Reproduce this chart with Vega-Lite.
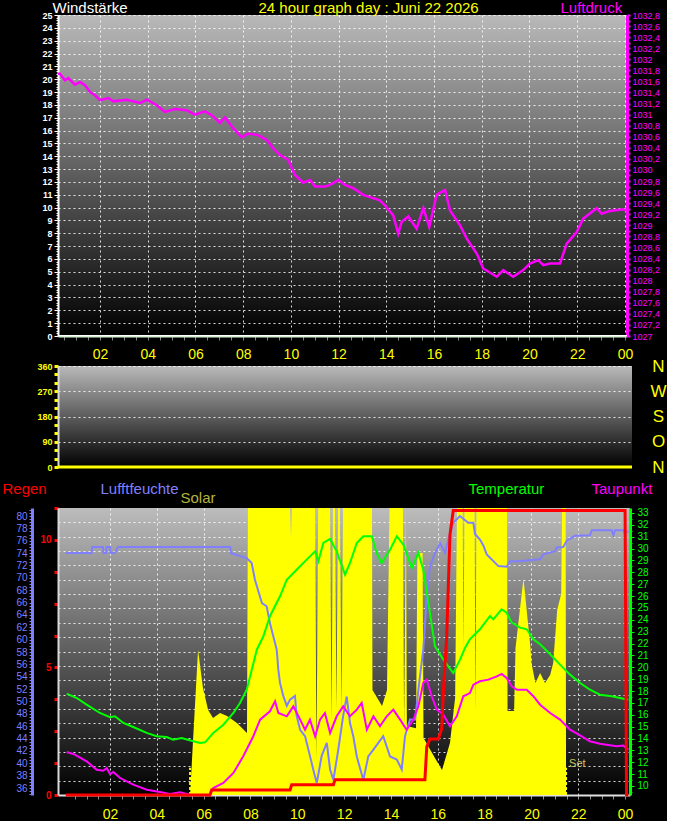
{
  "$schema": "https://vega.github.io/schema/vega-lite/v6.json",
  "background": "#000000",
  "padding": {"left": 2, "top": 0, "right": 0, "bottom": 0},
  "spacing": -4,
  "config": {
    "font": "Liberation Sans",
    "view": {"stroke": null},
    "axis": {
      "labelOverlap": false,
      "labelFlush": false,
      "labelFont": "Liberation Sans",
      "titleFont": "Liberation Sans",
      "titleFontWeight": "normal",
      "titleFontSize": 15,
      "gridColor": "#ffffff",
      "gridDash": [2, 3]
    }
  },
  "datasets": {
    "wind": [
      {"hour": 0.11, "speed": 0, "direction": 0},
      {"hour": 24.14, "speed": 0, "direction": 0}
    ],
    "pressure": [
      {"hour": 0.11, "pressure": 1031.74}, {"hour": 0.32, "pressure": 1031.74}, {"hour": 0.53, "pressure": 1031.62},
      {"hour": 0.67, "pressure": 1031.66}, {"hour": 0.95, "pressure": 1031.54}, {"hour": 1.16, "pressure": 1031.59},
      {"hour": 1.37, "pressure": 1031.53}, {"hour": 1.58, "pressure": 1031.41}, {"hour": 1.79, "pressure": 1031.35},
      {"hour": 2.0, "pressure": 1031.26}, {"hour": 2.35, "pressure": 1031.3}, {"hour": 2.56, "pressure": 1031.24},
      {"hour": 3.12, "pressure": 1031.27}, {"hour": 3.68, "pressure": 1031.21}, {"hour": 3.96, "pressure": 1031.27},
      {"hour": 4.38, "pressure": 1031.17}, {"hour": 4.72, "pressure": 1031.05}, {"hour": 5.14, "pressure": 1031.1},
      {"hour": 5.63, "pressure": 1031.08}, {"hour": 5.98, "pressure": 1031.0}, {"hour": 6.4, "pressure": 1031.06},
      {"hour": 6.68, "pressure": 1030.99}, {"hour": 7.03, "pressure": 1030.85}, {"hour": 7.24, "pressure": 1030.95},
      {"hour": 7.59, "pressure": 1030.75}, {"hour": 7.94, "pressure": 1030.59}, {"hour": 8.21, "pressure": 1030.66},
      {"hour": 8.63, "pressure": 1030.63}, {"hour": 8.99, "pressure": 1030.54}, {"hour": 9.26, "pressure": 1030.39},
      {"hour": 9.54, "pressure": 1030.27}, {"hour": 9.89, "pressure": 1030.18}, {"hour": 10.17, "pressure": 1029.91},
      {"hour": 10.52, "pressure": 1029.77}, {"hour": 10.8, "pressure": 1029.82}, {"hour": 11.01, "pressure": 1029.7},
      {"hour": 11.43, "pressure": 1029.7}, {"hour": 11.64, "pressure": 1029.73}, {"hour": 11.99, "pressure": 1029.82},
      {"hour": 12.27, "pressure": 1029.73}, {"hour": 12.62, "pressure": 1029.67}, {"hour": 13.03, "pressure": 1029.55},
      {"hour": 13.73, "pressure": 1029.45}, {"hour": 13.94, "pressure": 1029.36}, {"hour": 14.29, "pressure": 1029.18},
      {"hour": 14.5, "pressure": 1028.85}, {"hour": 14.64, "pressure": 1029.06}, {"hour": 14.92, "pressure": 1029.16},
      {"hour": 15.27, "pressure": 1028.94}, {"hour": 15.55, "pressure": 1029.31}, {"hour": 15.8, "pressure": 1028.97},
      {"hour": 16.11, "pressure": 1029.55}, {"hour": 16.46, "pressure": 1029.64}, {"hour": 16.67, "pressure": 1029.27},
      {"hour": 17.09, "pressure": 1029.0}, {"hour": 17.37, "pressure": 1028.76}, {"hour": 17.79, "pressure": 1028.49},
      {"hour": 18.06, "pressure": 1028.22}, {"hour": 18.63, "pressure": 1028.07}, {"hour": 18.9, "pressure": 1028.19},
      {"hour": 19.32, "pressure": 1028.07}, {"hour": 19.74, "pressure": 1028.19}, {"hour": 20.02, "pressure": 1028.31},
      {"hour": 20.37, "pressure": 1028.37}, {"hour": 20.58, "pressure": 1028.28}, {"hour": 20.86, "pressure": 1028.31},
      {"hour": 21.28, "pressure": 1028.31}, {"hour": 21.56, "pressure": 1028.67}, {"hour": 21.98, "pressure": 1028.88},
      {"hour": 22.25, "pressure": 1029.12}, {"hour": 22.82, "pressure": 1029.31}, {"hour": 23.03, "pressure": 1029.21},
      {"hour": 23.37, "pressure": 1029.26}, {"hour": 23.93, "pressure": 1029.29}, {"hour": 24.14, "pressure": 1029.25}
    ],
    "sun": [
      {"hour": 5.42, "event": "Rise"},
      {"hour": 21.48, "event": "Set"}
    ],
    "solar": [
      {"hour": 0.0, "solar": 0}, {"hour": 5.42, "solar": 0}, {"hour": 5.54, "solar": 181}, {"hour": 5.67, "solar": 373},
      {"hour": 5.76, "solar": 505}, {"hour": 5.97, "solar": 373}, {"hour": 6.19, "solar": 296}, {"hour": 6.4, "solar": 268},
      {"hour": 6.7, "solar": 286}, {"hour": 7.0, "solar": 275}, {"hour": 7.42, "solar": 251}, {"hour": 7.85, "solar": 216},
      {"hour": 7.89, "solar": 1000}, {"hour": 9.69, "solar": 1000}, {"hour": 9.73, "solar": 902}, {"hour": 9.77, "solar": 1000},
      {"hour": 10.76, "solar": 1000}, {"hour": 10.82, "solar": 129}, {"hour": 10.89, "solar": 1000}, {"hour": 11.4, "solar": 1000},
      {"hour": 11.46, "solar": 261}, {"hour": 11.52, "solar": 1000}, {"hour": 11.61, "solar": 1000}, {"hour": 11.67, "solar": 300},
      {"hour": 11.74, "solar": 1000}, {"hour": 11.82, "solar": 1000}, {"hour": 11.89, "solar": 300}, {"hour": 11.95, "solar": 1000},
      {"hour": 13.19, "solar": 1000}, {"hour": 13.21, "solar": 366}, {"hour": 13.62, "solar": 310}, {"hour": 13.83, "solar": 366},
      {"hour": 13.94, "solar": 1000}, {"hour": 14.51, "solar": 1000}, {"hour": 14.56, "solar": 240}, {"hour": 14.64, "solar": 1000},
      {"hour": 14.68, "solar": 240}, {"hour": 15.07, "solar": 233}, {"hour": 15.13, "solar": 843}, {"hour": 15.35, "solar": 843},
      {"hour": 15.39, "solar": 199}, {"hour": 15.88, "solar": 129}, {"hour": 16.18, "solar": 87}, {"hour": 16.52, "solar": 181},
      {"hour": 16.74, "solar": 338}, {"hour": 16.82, "solar": 1000}, {"hour": 17.06, "solar": 1000}, {"hour": 17.1, "solar": 512},
      {"hour": 17.14, "solar": 1000}, {"hour": 17.57, "solar": 1000}, {"hour": 17.61, "solar": 293}, {"hour": 17.65, "solar": 1000},
      {"hour": 18.96, "solar": 1000}, {"hour": 18.98, "solar": 293}, {"hour": 19.26, "solar": 293}, {"hour": 19.32, "solar": 512},
      {"hour": 19.66, "solar": 754}, {"hour": 19.96, "solar": 512}, {"hour": 20.0, "solar": 460}, {"hour": 20.17, "solar": 390},
      {"hour": 20.37, "solar": 425}, {"hour": 20.58, "solar": 390}, {"hour": 20.8, "solar": 418}, {"hour": 20.93, "solar": 460},
      {"hour": 21.1, "solar": 645}, {"hour": 21.27, "solar": 700}, {"hour": 21.31, "solar": 1000}, {"hour": 21.46, "solar": 1000},
      {"hour": 21.48, "solar": 0}, {"hour": 24.2, "solar": 0}
    ],
    "humidity": [
      {"hour": 0.11, "humidity": 74}, {"hour": 1.22, "humidity": 74}, {"hour": 1.23, "humidity": 75}, {"hour": 1.7, "humidity": 75},
      {"hour": 1.72, "humidity": 74}, {"hour": 1.83, "humidity": 74}, {"hour": 1.85, "humidity": 75}, {"hour": 2.0, "humidity": 75},
      {"hour": 2.02, "humidity": 74}, {"hour": 2.21, "humidity": 74}, {"hour": 2.34, "humidity": 75}, {"hour": 7.13, "humidity": 75},
      {"hour": 7.17, "humidity": 74}, {"hour": 7.84, "humidity": 73.2}, {"hour": 8.05, "humidity": 72.4}, {"hour": 8.19, "humidity": 69.7},
      {"hour": 8.33, "humidity": 67.9}, {"hour": 8.49, "humidity": 65.9}, {"hour": 8.69, "humidity": 65.4}, {"hour": 8.83, "humidity": 62.7},
      {"hour": 8.97, "humidity": 60.6}, {"hour": 9.12, "humidity": 58.4}, {"hour": 9.19, "humidity": 55.1}, {"hour": 9.26, "humidity": 53.0},
      {"hour": 9.4, "humidity": 50.9}, {"hour": 9.55, "humidity": 49.3}, {"hour": 9.69, "humidity": 50.3}, {"hour": 9.9, "humidity": 50.9},
      {"hour": 9.97, "humidity": 47.7}, {"hour": 10.12, "humidity": 45.4}, {"hour": 10.33, "humidity": 44.4}, {"hour": 10.54, "humidity": 41.2},
      {"hour": 10.68, "humidity": 39.0}, {"hour": 10.83, "humidity": 36.8}, {"hour": 11.04, "humidity": 41.2}, {"hour": 11.26, "humidity": 43.3},
      {"hour": 11.4, "humidity": 39.0}, {"hour": 11.54, "humidity": 37.3}, {"hour": 11.75, "humidity": 42.2}, {"hour": 11.96, "humidity": 47.7},
      {"hour": 12.11, "humidity": 50.8}, {"hour": 12.25, "humidity": 46.5}, {"hour": 12.39, "humidity": 44.4}, {"hour": 12.54, "humidity": 41.1},
      {"hour": 12.82, "humidity": 37.3}, {"hour": 13.03, "humidity": 41.1}, {"hour": 13.25, "humidity": 42.2}, {"hour": 13.46, "humidity": 43.3},
      {"hour": 13.67, "humidity": 44.4}, {"hour": 13.96, "humidity": 41.1}, {"hour": 14.25, "humidity": 40.6}, {"hour": 14.46, "humidity": 39.0},
      {"hour": 14.6, "humidity": 44.4}, {"hour": 14.81, "humidity": 47.1}, {"hour": 15.03, "humidity": 47.1}, {"hour": 15.24, "humidity": 54.1},
      {"hour": 15.38, "humidity": 58.4}, {"hour": 15.53, "humidity": 67.0}, {"hour": 15.67, "humidity": 71.9}, {"hour": 15.88, "humidity": 74.0},
      {"hour": 16.1, "humidity": 75.6}, {"hour": 16.31, "humidity": 74.0}, {"hour": 16.45, "humidity": 76.2}, {"hour": 16.66, "humidity": 78.9},
      {"hour": 16.95, "humidity": 80.0}, {"hour": 17.3, "humidity": 78.9}, {"hour": 17.52, "humidity": 78.9}, {"hour": 17.59, "humidity": 77.1},
      {"hour": 17.8, "humidity": 76.2}, {"hour": 17.95, "humidity": 75.2}, {"hour": 18.09, "humidity": 73.8}, {"hour": 18.59, "humidity": 71.9},
      {"hour": 18.94, "humidity": 71.8}, {"hour": 19.09, "humidity": 72.7}, {"hour": 19.44, "humidity": 72.7}, {"hour": 20.37, "humidity": 73.0},
      {"hour": 20.51, "humidity": 73.8}, {"hour": 21.01, "humidity": 74.3}, {"hour": 21.08, "humidity": 74.9}, {"hour": 21.36, "humidity": 75.0},
      {"hour": 21.51, "humidity": 76.0}, {"hour": 21.86, "humidity": 76.8}, {"hour": 22.5, "humidity": 76.9}, {"hour": 22.58, "humidity": 77.7},
      {"hour": 23.43, "humidity": 77.7}, {"hour": 23.5, "humidity": 76.9}, {"hour": 23.57, "humidity": 77.7}, {"hour": 23.93, "humidity": 77.7},
      {"hour": 24.0, "humidity": 77.1}, {"hour": 24.14, "humidity": 77.6}
    ],
    "temperature": [
      {"hour": 0.15, "temperature": 17.78}, {"hour": 0.58, "temperature": 17.41}, {"hour": 1.0, "temperature": 16.85},
      {"hour": 1.57, "temperature": 16.15}, {"hour": 2.0, "temperature": 15.79}, {"hour": 2.21, "temperature": 15.87},
      {"hour": 2.57, "temperature": 15.31}, {"hour": 2.99, "temperature": 14.97}, {"hour": 3.57, "temperature": 14.47},
      {"hour": 3.99, "temperature": 14.19}, {"hour": 4.42, "temperature": 14.13}, {"hour": 4.7, "temperature": 13.9},
      {"hour": 5.06, "temperature": 14.04}, {"hour": 5.56, "temperature": 13.77}, {"hour": 5.84, "temperature": 13.62},
      {"hour": 6.06, "temperature": 13.68}, {"hour": 6.41, "temperature": 14.47}, {"hour": 6.84, "temperature": 15.16},
      {"hour": 7.27, "temperature": 16.15}, {"hour": 7.55, "temperature": 16.99}, {"hour": 7.84, "temperature": 18.11},
      {"hour": 8.27, "temperature": 21.48}, {"hour": 8.55, "temperature": 22.61}, {"hour": 8.83, "temperature": 24.3},
      {"hour": 9.26, "temperature": 25.98}, {"hour": 9.55, "temperature": 27.38}, {"hour": 9.97, "temperature": 28.22},
      {"hour": 10.4, "temperature": 29.07}, {"hour": 10.76, "temperature": 29.77}, {"hour": 10.9, "temperature": 28.93},
      {"hour": 11.11, "temperature": 30.47}, {"hour": 11.4, "temperature": 30.81}, {"hour": 11.68, "temperature": 29.77},
      {"hour": 12.04, "temperature": 27.8}, {"hour": 12.25, "temperature": 28.79}, {"hour": 12.54, "temperature": 30.47},
      {"hour": 12.82, "temperature": 31.04}, {"hour": 13.18, "temperature": 31.04}, {"hour": 13.39, "temperature": 29.63},
      {"hour": 13.6, "temperature": 28.79}, {"hour": 13.96, "temperature": 29.91}, {"hour": 14.25, "temperature": 31.04},
      {"hour": 14.53, "temperature": 30.33}, {"hour": 14.89, "temperature": 28.37}, {"hour": 15.17, "temperature": 29.63},
      {"hour": 15.38, "temperature": 28.22}, {"hour": 15.6, "temperature": 25.42}, {"hour": 15.88, "temperature": 21.77},
      {"hour": 16.24, "temperature": 20.64}, {"hour": 16.66, "temperature": 19.52}, {"hour": 16.95, "temperature": 20.64},
      {"hour": 17.16, "temperature": 21.63}, {"hour": 17.37, "temperature": 22.36}, {"hour": 17.8, "temperature": 23.2},
      {"hour": 18.23, "temperature": 24.32}, {"hour": 18.37, "temperature": 24.04}, {"hour": 18.73, "temperature": 24.89},
      {"hour": 18.94, "temperature": 24.6}, {"hour": 19.16, "temperature": 23.76}, {"hour": 19.51, "temperature": 23.34},
      {"hour": 19.8, "temperature": 23.2}, {"hour": 20.08, "temperature": 22.36}, {"hour": 20.37, "temperature": 21.94},
      {"hour": 20.8, "temperature": 21.1}, {"hour": 21.22, "temperature": 20.22}, {"hour": 21.65, "temperature": 19.38},
      {"hour": 22.08, "temperature": 18.68}, {"hour": 22.5, "temperature": 18.11}, {"hour": 22.93, "temperature": 17.69},
      {"hour": 23.43, "temperature": 17.56}, {"hour": 23.78, "temperature": 17.41}, {"hour": 24.14, "temperature": 17.27}
    ],
    "dewpoint": [
      {"hour": 0.15, "dewpoint": 12.86}, {"hour": 0.5, "dewpoint": 12.64}, {"hour": 1.0, "dewpoint": 12.08},
      {"hour": 1.43, "dewpoint": 11.37}, {"hour": 1.71, "dewpoint": 11.29}, {"hour": 1.86, "dewpoint": 11.52},
      {"hour": 2.0, "dewpoint": 11.01}, {"hour": 2.14, "dewpoint": 11.18}, {"hour": 2.43, "dewpoint": 10.67},
      {"hour": 2.99, "dewpoint": 10.11}, {"hour": 3.57, "dewpoint": 9.69}, {"hour": 4.13, "dewpoint": 9.49},
      {"hour": 4.56, "dewpoint": 9.33}, {"hour": 4.99, "dewpoint": 9.47}, {"hour": 5.42, "dewpoint": 9.27},
      {"hour": 5.84, "dewpoint": 9.16}, {"hour": 6.27, "dewpoint": 9.27}, {"hour": 6.41, "dewpoint": 9.83},
      {"hour": 6.84, "dewpoint": 10.25}, {"hour": 7.27, "dewpoint": 11.1}, {"hour": 7.69, "dewpoint": 12.5},
      {"hour": 8.12, "dewpoint": 14.19}, {"hour": 8.41, "dewpoint": 15.59}, {"hour": 8.83, "dewpoint": 16.29},
      {"hour": 9.05, "dewpoint": 17.14}, {"hour": 9.19, "dewpoint": 16.15}, {"hour": 9.55, "dewpoint": 15.87},
      {"hour": 9.83, "dewpoint": 16.71}, {"hour": 10.12, "dewpoint": 15.59}, {"hour": 10.33, "dewpoint": 14.74},
      {"hour": 10.54, "dewpoint": 15.59}, {"hour": 10.76, "dewpoint": 14.19}, {"hour": 10.97, "dewpoint": 15.59},
      {"hour": 11.18, "dewpoint": 16.15}, {"hour": 11.4, "dewpoint": 14.47}, {"hour": 11.68, "dewpoint": 15.87},
      {"hour": 11.96, "dewpoint": 16.71}, {"hour": 12.25, "dewpoint": 15.87}, {"hour": 12.54, "dewpoint": 16.43},
      {"hour": 12.75, "dewpoint": 16.99}, {"hour": 12.97, "dewpoint": 14.74}, {"hour": 13.25, "dewpoint": 15.87},
      {"hour": 13.53, "dewpoint": 15.03}, {"hour": 13.82, "dewpoint": 15.87}, {"hour": 14.1, "dewpoint": 16.43},
      {"hour": 14.39, "dewpoint": 15.59}, {"hour": 14.67, "dewpoint": 14.74}, {"hour": 14.96, "dewpoint": 15.59},
      {"hour": 15.17, "dewpoint": 16.71}, {"hour": 15.38, "dewpoint": 18.68}, {"hour": 15.53, "dewpoint": 18.96},
      {"hour": 15.74, "dewpoint": 17.56}, {"hour": 15.96, "dewpoint": 16.43}, {"hour": 16.24, "dewpoint": 16.01},
      {"hour": 16.52, "dewpoint": 15.03}, {"hour": 16.81, "dewpoint": 15.87}, {"hour": 17.09, "dewpoint": 17.56},
      {"hour": 17.37, "dewpoint": 17.83}, {"hour": 17.52, "dewpoint": 18.53}, {"hour": 17.8, "dewpoint": 18.82},
      {"hour": 18.16, "dewpoint": 18.96}, {"hour": 18.52, "dewpoint": 19.24}, {"hour": 18.73, "dewpoint": 19.44},
      {"hour": 18.94, "dewpoint": 19.1}, {"hour": 19.16, "dewpoint": 18.4}, {"hour": 19.38, "dewpoint": 18.11},
      {"hour": 19.8, "dewpoint": 18.11}, {"hour": 20.08, "dewpoint": 17.56}, {"hour": 20.37, "dewpoint": 16.85},
      {"hour": 20.8, "dewpoint": 16.15}, {"hour": 21.22, "dewpoint": 15.59}, {"hour": 21.65, "dewpoint": 14.74},
      {"hour": 22.08, "dewpoint": 14.27}, {"hour": 22.5, "dewpoint": 13.77}, {"hour": 22.93, "dewpoint": 13.56},
      {"hour": 23.35, "dewpoint": 13.43}, {"hour": 23.64, "dewpoint": 13.34}, {"hour": 23.93, "dewpoint": 13.4},
      {"hour": 24.14, "dewpoint": 13.06}
    ],
    "rain": [
      {"hour": 0.11, "rain": 0}, {"hour": 6.27, "rain": 0}, {"hour": 6.34, "rain": 0.2}, {"hour": 9.69, "rain": 0.2},
      {"hour": 9.76, "rain": 0.4}, {"hour": 11.54, "rain": 0.4}, {"hour": 11.61, "rain": 0.6}, {"hour": 15.45, "rain": 0.6},
      {"hour": 15.53, "rain": 1.9}, {"hour": 15.67, "rain": 2.2}, {"hour": 16.02, "rain": 2.2}, {"hour": 16.17, "rain": 2.6},
      {"hour": 16.24, "rain": 4.1}, {"hour": 16.38, "rain": 6.2}, {"hour": 16.45, "rain": 8.2}, {"hour": 16.52, "rain": 10.2},
      {"hour": 16.66, "rain": 11.15}, {"hour": 24.0, "rain": 11.15}, {"hour": 24.06, "rain": 0}, {"hour": 24.14, "rain": 0}
    ]
  },
  "vconcat": [
    {
      "width": 569,
      "height": 321,
      "view": {
        "fill": {"gradient": "linear", "x1": 0, "y1": 0, "x2": 0, "y2": 1, "stops": [{"offset": 0, "color": "#b9b9b9"}, {"offset": 1, "color": "#000000"}]},
        "stroke": null
      },
      "layer": [
        {
          "data": {"name": "wind"},
          "mark": {"type": "line", "color": "#ffffff", "strokeWidth": 2, "clip": true},
          "encoding": {
            "x": {
              "field": "hour", "type": "quantitative",
              "scale": {"domain": [0.239, 24.087], "nice": false, "zero": false},
              "axis": {
                "title": null, "orient": "bottom",
                "values": [0.5, 1, 1.5, 2, 2.5, 3, 3.5, 4, 4.5, 5, 5.5, 6, 6.5, 7, 7.5, 8, 8.5, 9, 9.5, 10, 10.5, 11, 11.5, 12, 12.5, 13, 13.5, 14, 14.5, 15, 15.5, 16, 16.5, 17, 17.5, 18, 18.5, 19, 19.5, 20, 20.5, 21, 21.5, 22, 22.5, 23, 23.5, 24],
                "labelExpr": "datum.value % 2 == 0 ? ((datum.value % 24) < 10 ? '0' : '') + (datum.value % 24) : ''",
                "labelColor": "#ffff00", "labelFontSize": 14, "labelPadding": 7,
                "tickColor": "#808080", "tickSize": 4,
                "domainColor": "#d8f0d8", "domainWidth": 2,
                "grid": true,
                "gridOpacity": {"condition": {"test": "datum.value % 2 == 0", "value": 0.85}, "value": 0}
              }
            },
            "y": {
              "field": "speed", "type": "quantitative",
              "scale": {"domain": [0, 25], "nice": false},
              "axis": {
                "orient": "left",
                "title": "Windstärke", "titleX": -6, "titleY": -3, "titleAngle": 0, "titleAlign": "left", "titleBaseline": "alphabetic", "titleColor": "#ffffff",
                "tickCount": 125,
                "labelExpr": "abs(datum.value - round(datum.value)) < 0.01 ? format(datum.value, '.0f') : ''",
                "labelColor": "#ffffff", "labelFontSize": 9, "labelFontWeight": "bold", "labelPadding": 2,
                "tickColor": "#ffffff", "tickSize": {"condition": {"test": "abs(datum.value - round(datum.value)) < 0.01", "value": 4}, "value": 2},
                "domainColor": "#ffffff", "domainWidth": 2,
                "grid": true,
                "gridOpacity": {"condition": {"test": "abs(datum.value - round(datum.value)) < 0.01 && datum.value > 0", "value": 0.85}, "value": 0}
              }
            }
          }
        },
        {
          "data": {"name": "wind"},
          "mark": {"type": "line", "strokeOpacity": 0},
          "encoding": {
            "x": {"field": "hour", "type": "quantitative", "axis": null},
            "y": {
              "field": "speed", "type": "quantitative",
              "scale": {"domain": [0, 25], "nice": false},
              "axis": {
                "orient": "left",
                "title": "24 hour graph day : Juni 22 2026", "titleX": 200, "titleY": -3, "titleAngle": 0, "titleAlign": "left", "titleBaseline": "alphabetic", "titleColor": "#ffff00",
                "labels": false, "ticks": false, "domain": false, "grid": false
              }
            }
          }
        },
        {
          "data": {"name": "pressure"},
          "mark": {"type": "line", "color": "#ff00ff", "strokeWidth": 2.5, "clip": true},
          "encoding": {
            "x": {"field": "hour", "type": "quantitative", "axis": null},
            "y": {
              "field": "pressure", "type": "quantitative",
              "scale": {"domain": [1027, 1032.8], "nice": false, "zero": false},
              "axis": {
                "orient": "right",
                "title": "Luftdruck", "titleX": -67, "titleY": -3, "titleAngle": 0, "titleAlign": "left", "titleBaseline": "alphabetic", "titleColor": "#ff00ff",
                "tickCount": 58,
                "labelExpr": "round(datum.value * 10) % 2 == 0 ? replace(format(datum.value, '.1~f'), '.', ',') : ''",
                "labelColor": "#ff00ff", "labelFontSize": 9, "labelPadding": 2,
                "tickColor": "#ff00ff", "tickSize": 3, "tickWidth": 2,
                "domainColor": "#ff00ff", "domainWidth": 3,
                "grid": false
              }
            }
          }
        }
      ],
      "resolve": {"scale": {"y": "independent"}, "axis": {"x": "independent"}}
    },
    {
      "width": 574,
      "height": 101,
      "view": {
        "fill": {"gradient": "linear", "x1": 0, "y1": 0, "x2": 0, "y2": 1, "stops": [{"offset": 0, "color": "#b9b9b9"}, {"offset": 1, "color": "#000000"}]},
        "stroke": null
      },
      "layer": [
        {
          "data": {"name": "wind"},
          "mark": {"type": "line", "color": "#ffff00", "strokeWidth": 3},
          "encoding": {
            "x": {
              "field": "hour", "type": "quantitative",
              "scale": {"domain": [0.11, 24.14], "nice": false, "zero": false},
              "axis": {"title": null, "orient": "bottom", "offset": 18, "labels": false, "ticks": false, "grid": false, "domainColor": "#000000"}
            },
            "y": {
              "field": "direction", "type": "quantitative",
              "scale": {"domain": [0, 360], "nice": false},
              "axis": {
                "orient": "left", "title": null,
                "values": [0, 30, 60, 90, 120, 150, 180, 210, 240, 270, 300, 330, 360],
                "labelExpr": "datum.value % 90 == 0 ? format(datum.value, '.0f') : ''",
                "labelColor": "#ffff00", "labelFontSize": 9, "labelFontWeight": "bold", "labelPadding": 2,
                "tickColor": "#ffff00", "tickSize": 4, "tickWidth": 3,
                "domainColor": "#d8d8d8", "domainWidth": 2,
                "grid": true,
                "gridOpacity": {"condition": {"test": "datum.value % 90 == 0 && datum.value > 0", "value": 0.85}, "value": 0}
              }
            }
          }
        },
        {
          "data": {"name": "wind"},
          "mark": {"type": "line", "strokeOpacity": 0},
          "encoding": {
            "x": {"field": "hour", "type": "quantitative", "axis": null},
            "y": {
              "field": "direction", "type": "quantitative",
              "scale": {"domain": [0, 360], "nice": false},
              "axis": {
                "orient": "right", "title": null,
                "values": [0, 90, 180, 270, 360],
                "labelExpr": "datum.value == 90 ? 'O' : datum.value == 180 ? 'S' : datum.value == 270 ? 'W' : 'N'",
                "labelColor": "#ffff00", "labelFontSize": 17, "labelAlign": "center", "labelPadding": 26,
                "ticks": false, "domain": false, "grid": false
              }
            }
          }
        }
      ],
      "resolve": {"scale": {"y": "independent"}, "axis": {"x": "independent"}}
    },
    {
      "width": 572,
      "height": 287,
      "view": {
        "fill": {"gradient": "linear", "x1": 0, "y1": 0, "x2": 0, "y2": 1, "stops": [{"offset": 0, "color": "#bcbcbc"}, {"offset": 1, "color": "#000000"}]},
        "stroke": null
      },
      "layer": [
        {
          "data": {"name": "solar"},
          "mark": {"type": "area", "color": "#ffff00", "clip": true},
          "encoding": {
            "x": {
              "field": "hour", "type": "quantitative",
              "scale": {"domain": [-0.222, 24.21], "nice": false, "zero": false},
              "axis": {
                "title": null, "orient": "bottom",
                "values": [0.5, 1, 1.5, 2, 2.5, 3, 3.5, 4, 4.5, 5, 5.5, 6, 6.5, 7, 7.5, 8, 8.5, 9, 9.5, 10, 10.5, 11, 11.5, 12, 12.5, 13, 13.5, 14, 14.5, 15, 15.5, 16, 16.5, 17, 17.5, 18, 18.5, 19, 19.5, 20, 20.5, 21, 21.5, 22, 22.5, 23, 23.5, 24],
                "labelExpr": "datum.value % 2 == 0 ? ((datum.value % 24) < 10 ? '0' : '') + (datum.value % 24) : ''",
                "labelColor": "#ffff00", "labelFontSize": 14, "labelPadding": 8,
                "tickColor": "#909090", "tickSize": 4,
                "domainColor": "#e0e0e0", "domainWidth": 2,
                "grid": true,
                "gridOpacity": {"condition": {"test": "datum.value % 2 == 0", "value": 0.85}, "value": 0}
              }
            },
            "y": {
              "field": "solar", "type": "quantitative",
              "scale": {"domain": [0, 1000], "nice": false},
              "axis": {
                "orient": "left",
                "title": "Solar", "titleX": 122, "titleY": -6, "titleAngle": 0, "titleAlign": "left", "titleBaseline": "alphabetic", "titleColor": "#b4b43c",
                "tickCount": 20, "labels": false, "ticks": false, "domain": false,
                "grid": true,
                "gridOpacity": {"condition": {"test": "datum.value > 0 && datum.value < 1000", "value": 0.85}, "value": 0}
              }
            }
          }
        },
        {
          "data": {"name": "sun"},
          "mark": {"type": "rule", "color": "#ffff00", "strokeWidth": 2, "strokeDash": [3, 2]},
          "encoding": {
            "x": {"field": "hour", "type": "quantitative", "axis": null},
            "y": {"datum": 0, "type": "quantitative", "scale": {"domain": [0, 1000], "nice": false}, "axis": null},
            "y2": {"datum": 95}
          }
        },
        {
          "data": {"name": "sun"},
          "transform": [{"filter": "datum.event == 'Set'"}],
          "mark": {"type": "text", "color": "#c8c864", "fontSize": 11, "align": "left", "baseline": "middle", "dx": 3},
          "encoding": {
            "x": {"field": "hour", "type": "quantitative", "axis": null},
            "y": {"datum": 108, "type": "quantitative", "scale": {"domain": [0, 1000], "nice": false}, "axis": null},
            "text": {"field": "event"}
          }
        },
        {
          "data": {"name": "humidity"},
          "mark": {"type": "line", "color": "#8080ff", "strokeWidth": 2, "clip": true},
          "encoding": {
            "x": {"field": "hour", "type": "quantitative", "axis": null},
            "y": {
              "field": "humidity", "type": "quantitative",
              "scale": {"domain": [34.87, 81.3], "nice": false, "zero": false},
              "axis": {
                "orient": "left", "offset": 26,
                "title": "Lufftfeuchte", "titleX": 68, "titleY": -15, "titleAngle": 0, "titleAlign": "left", "titleBaseline": "alphabetic", "titleColor": "#8080ff",
                "tickCount": 93,
                "labelExpr": "datum.value % 2 == 0 ? format(datum.value, '.0f') : ''",
                "labelColor": "#7f7fff", "labelFontSize": 10, "labelPadding": 2,
                "tickColor": "#7f7fff", "tickSize": 3,
                "domainColor": "#7f7fff", "domainWidth": 3,
                "grid": false
              }
            }
          }
        },
        {
          "data": {"name": "temperature"},
          "mark": {"type": "line", "color": "#00ff00", "strokeWidth": 2, "clip": true},
          "encoding": {
            "x": {"field": "hour", "type": "quantitative", "axis": null},
            "y": {
              "field": "temperature", "type": "quantitative",
              "scale": {"domain": [9.24, 33.42], "nice": false, "zero": false},
              "axis": {
                "orient": "right",
                "title": "Temperatur", "titleX": -162, "titleY": -15, "titleAngle": 0, "titleAlign": "left", "titleBaseline": "alphabetic", "titleColor": "#00ff00",
                "tickCount": 48,
                "labelExpr": "datum.value % 1 == 0 ? format(datum.value, '.0f') : ''",
                "labelColor": "#00ff00", "labelFontSize": 10, "labelPadding": 3,
                "tickColor": "#00ff00", "tickSize": {"condition": {"test": "datum.value % 1 == 0", "value": 4}, "value": 2},
                "domainColor": "#00ff00", "domainWidth": 3,
                "grid": false
              }
            }
          }
        },
        {
          "data": {"name": "dewpoint"},
          "mark": {"type": "line", "color": "#ff00ff", "strokeWidth": 2, "clip": true},
          "encoding": {
            "x": {"field": "hour", "type": "quantitative", "axis": null},
            "y": {
              "field": "dewpoint", "type": "quantitative",
              "scale": {"domain": [9.24, 33.42], "nice": false, "zero": false},
              "axis": {
                "orient": "right",
                "title": "Taupunkt", "titleX": -39, "titleY": -15, "titleAngle": 0, "titleAlign": "left", "titleBaseline": "alphabetic", "titleColor": "#ff00ff",
                "labels": false, "ticks": false, "domain": false, "grid": false
              }
            }
          }
        },
        {
          "data": {"name": "rain"},
          "mark": {"type": "line", "color": "#ff0000", "strokeWidth": 3},
          "encoding": {
            "x": {"field": "hour", "type": "quantitative", "axis": null},
            "y": {
              "field": "rain", "type": "quantitative",
              "scale": {"domain": [0, 11.25], "nice": false},
              "axis": {
                "orient": "left",
                "title": "Regen", "titleX": -56, "titleY": -15, "titleAngle": 0, "titleAlign": "left", "titleBaseline": "alphabetic", "titleColor": "#ff0000",
                "values": [0, 1.25, 2.5, 3.75, 5, 6.25, 7.5, 8.75, 10, 11.25],
                "labelExpr": "datum.value == 0 || datum.value == 5 || datum.value == 10 ? format(datum.value, '.0f') : ''",
                "labelColor": "#ff0000", "labelFontSize": 10, "labelFontWeight": "bold", "labelPadding": 3,
                "tickColor": "#ff0000", "tickSize": 4, "tickWidth": 3,
                "domainColor": "#d8d8d8", "domainWidth": 2,
                "grid": false
              }
            }
          }
        }
      ],
      "resolve": {"scale": {"y": "independent"}, "axis": {"x": "independent"}}
    }
  ]
}
